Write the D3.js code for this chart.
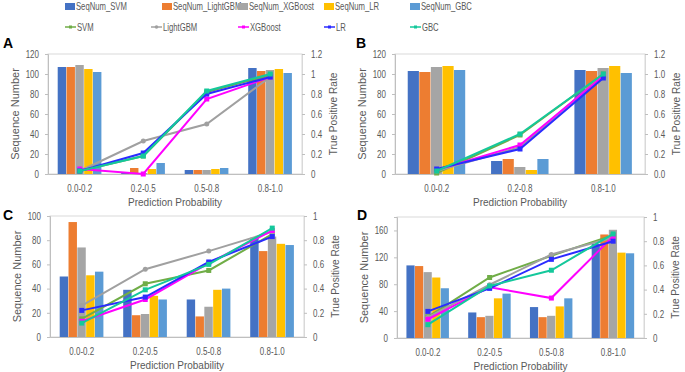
<!DOCTYPE html>
<html>
<head>
<meta charset="utf-8">
<script src="https://cdn.jsdelivr.net/npm/d3@7"></script>
<style>
  body { margin: 0; background: #fff; }
  svg text { font-family: "Liberation Sans", Arial, sans-serif; }
</style>
</head>
<body>
<svg id="chart" width="685" height="372"></svg>
<script>
const SERIES = ['SVM', 'LightGBM', 'XGBoost', 'LR', 'GBC']
const BAR_COLORS = ['#4472C4', '#ED7D31', '#A5A5A5', '#FFC000', '#5B9BD5']
const LINE_COLORS = ['#70AD47', '#A0A0A0', '#FF00FF', '#2B2BFF', '#14C89B']

const cats4 = ['0.0-0.2', '0.2-0.5', '0.5-0.8', '0.8-1.0']
const cats3 = ['0.0-0.2', '0.2-0.8', '0.8-1.0']

// sequence numbers, one row per series (SVM, LightGBM, XGBoost, LR, GBC)
const seqA = [[107, 1, 4, 106], [107, 6, 4, 103], [109, 1, 4, 104], [105, 5, 5, 105], [102, 11, 6, 101]]
const seqB = [[103, 13, 104], [102, 15, 103], [107, 7, 106], [108, 4, 108], [104, 15, 101]]
const seqC = [[50, 39, 31, 82], [95, 18, 17, 71], [74, 19, 25, 83], [51, 34, 39, 77], [54, 31, 40, 76]]
const seqD = [[108, 38, 46, 140], [107, 31, 31, 154], [98, 33, 33, 161], [90, 59, 47, 127], [74, 66, 59, 126]]

// true positive rates, same series order
const tprA = [[0.03, 0.18, 0.82, 0.99], [0.03, 0.33, 0.5, 0.97], [0.05, 0.0, 0.75, 0.97], [0.03, 0.21, 0.8, 0.97], [0.03, 0.18, 0.83, 1.0]]
const tprB = [[0.01, 0.39, 1.0], [0.03, 0.27, 0.99], [0.04, 0.29, 0.98], [0.05, 0.25, 0.96], [0.03, 0.4, 1.0]]
const tprC = [[0.15, 0.44, 0.55, 0.85], [0.26, 0.56, 0.71, 0.87], [0.13, 0.31, 0.61, 0.88], [0.22, 0.33, 0.62, 0.83], [0.115, 0.39, 0.6, 0.9]]
const tprD = [[0.175, 0.5, 0.68, 0.85], [0.17, 0.44, 0.69, 0.83], [0.155, 0.42, 0.33, 0.84], [0.22, 0.41, 0.65, 0.8], [0.11, 0.43, 0.56, 0.86]]

const seqTicksAB = [0, 20, 40, 60, 80, 100, 120]
const seqTicksC = [0, 20, 40, 60, 80, 100]
const seqTicksD = [0, 40, 80, 120, 160]
const tprTicks12 = [0, 0.2, 0.4, 0.6, 0.8, 1, 1.2]
const tprTicks1 = [0, 0.2, 0.4, 0.6, 0.8, 1]

const svg = d3.select('#chart')
const TEXT = '#595959'

// squeeze text horizontally, the original uses a narrow font
function condense(sel, k) {
  sel.each(function() {
    const t = d3.select(this)
    const x = +t.attr('x') || 0
    const tr = t.attr('transform') || ''
    t.attr('x', x / k).attr('transform', `${tr} scale(${k},1)`)
  })
}

// legend
const legendBarX = [65, 162, 238, 324, 410]
const legendLineX = [65, 151, 238, 324, 410]
const legend = svg.append('g').attr('class', 'legend')
SERIES.forEach((s, i) => {
  legend.append('rect')
    .attr('x', legendBarX[i]).attr('y', 3)
    .attr('width', 10).attr('height', 7)
    .attr('fill', BAR_COLORS[i])
  legend.append('text')
    .attr('x', legendBarX[i] + 11).attr('y', 10)
    .attr('font-size', 10).attr('fill', TEXT)
    .text('SeqNum_' + s)
    .call(condense, 0.77)
  legend.append('line')
    .attr('x1', legendLineX[i]).attr('x2', legendLineX[i] + 11)
    .attr('y1', 27).attr('y2', 27)
    .attr('stroke', LINE_COLORS[i]).attr('stroke-width', 1.5)
  if (s === 'LightGBM') {
    legend.append('circle')
      .attr('cx', legendLineX[i] + 5.5).attr('cy', 27).attr('r', 1.8)
      .attr('fill', LINE_COLORS[i])
  } else {
    legend.append('rect')
      .attr('x', legendLineX[i] + 4).attr('y', 25.5)
      .attr('width', 3).attr('height', 3)
      .attr('fill', LINE_COLORS[i])
  }
  legend.append('text')
    .attr('x', legendLineX[i] + 12).attr('y', 31)
    .attr('font-size', 10).attr('fill', TEXT)
    .text(s)
    .call(condense, 0.77)
})

function drawPanel(p) {
  const g = svg.append('g')

  const x0 = d3.scaleBand().domain(p.cats).range([p.left, p.right])
  const x1 = d3.scaleBand().domain(SERIES).range([0, x0.bandwidth()]).paddingOuter(1.1)
  const yL = d3.scaleLinear().domain(p.seqDomain).range([p.bottom, p.top])
  const yR = d3.scaleLinear().domain(p.tprDomain).range([p.bottom, p.top])

  g.append('rect')
    .attr('x', p.left).attr('y', p.top)
    .attr('width', p.right - p.left).attr('height', p.bottom - p.top)
    .attr('fill', 'none').attr('stroke', '#D9D9D9')

  // bars
  SERIES.forEach((s, si) => {
    g.append('g').selectAll('rect')
      .data(p.seq[si])
      .join('rect')
        .attr('x', (d, ci) => x0(p.cats[ci]) + x1(s))
        .attr('y', d => yL(d))
        .attr('width', x1.bandwidth() - 0.4)
        .attr('height', d => yL(0) - yL(d))
        .attr('fill', BAR_COLORS[si])
  })

  // axes
  const leftAxis = g.append('g')
    .attr('transform', `translate(${p.left},0)`)
    .call(d3.axisLeft(yL).tickValues(p.seqTicks).tickSize(3).tickPadding(6))
  const rightAxis = g.append('g')
    .attr('transform', `translate(${p.right},0)`)
    .call(d3.axisRight(yR).tickValues(p.tprTicks).tickSize(3).tickPadding(6).tickFormat(p.tprFormat))
  const bottomAxis = g.append('g')
    .attr('transform', `translate(0,${p.bottom})`)
    .call(d3.axisBottom(x0).tickSize(0).tickPadding(11))
  ;[leftAxis, rightAxis, bottomAxis].forEach(a => {
    a.select('.domain').attr('stroke', '#BFBFBF')
    a.selectAll('.tick line').attr('stroke', '#BFBFBF')
    a.selectAll('text').attr('fill', TEXT).attr('font-size', 10)
      .attr('font-family', '"Liberation Sans", Arial, sans-serif')
      .call(condense, 0.8)
  })
  rightAxis.select('.domain').attr('stroke', '#D9D9D9')

  // lines
  const cx = (d, ci) => x0(p.cats[ci]) + x0.bandwidth() / 2
  const line = d3.line().x(cx).y(d => yR(d))
  SERIES.forEach((s, si) => {
    g.append('path')
      .datum(p.tpr[si])
      .attr('d', line)
      .attr('fill', 'none')
      .attr('stroke', LINE_COLORS[si])
      .attr('stroke-width', 2)
    const pts = g.append('g').selectAll('.pt')
      .data(p.tpr[si])
    if (s === 'LightGBM') {
      pts.join('circle')
        .attr('cx', cx)
        .attr('cy', d => yR(d))
        .attr('r', 2.5)
        .attr('fill', LINE_COLORS[si])
    } else {
      pts.join('rect')
        .attr('x', (d, ci) => cx(d, ci) - 2.5)
        .attr('y', d => yR(d) - 2.5)
        .attr('width', 5).attr('height', 5)
        .attr('fill', LINE_COLORS[si])
    }
  })

  // titles
  const midY = (p.top + p.bottom) / 2
  g.append('text')
    .attr('transform', `translate(${p.left - 29},${midY}) rotate(-90)`)
    .attr('text-anchor', 'middle').attr('font-size', 11).attr('fill', TEXT)
    .text('Sequence Number')
  g.append('text')
    .attr('transform', `translate(${p.right + 35},${midY}) rotate(-90)`)
    .attr('text-anchor', 'middle').attr('font-size', 11).attr('fill', TEXT)
    .text('True Positive Rate')
    .call(condense, 0.92)
  g.append('text')
    .attr('x', (p.left + p.right) / 2).attr('y', p.bottom + 32)
    .attr('text-anchor', 'middle').attr('font-size', 11).attr('fill', TEXT)
    .text('Prediction Probability')
    .call(condense, 0.91)
  g.append('text')
    .attr('x', p.labelX).attr('y', p.labelY)
    .attr('font-size', 14).attr('font-weight', 'bold').attr('fill', '#000')
    .text(p.label)
}

const plainFmt = d => String(d)
const oneDec = d3.format('.1f')

drawPanel({ label: 'A', labelX: 3, labelY: 48, cats: cats4, seq: seqA, tpr: tprA,
  left: 48, right: 302, top: 54, bottom: 174,
  seqDomain: [0, 120], tprDomain: [0, 1.2], seqTicks: seqTicksAB, tprTicks: tprTicks12, tprFormat: plainFmt })
drawPanel({ label: 'B', labelX: 356, labelY: 48, cats: cats3, seq: seqB, tpr: tprB,
  left: 395, right: 645, top: 54, bottom: 174,
  seqDomain: [0, 120], tprDomain: [0, 1.2], seqTicks: seqTicksAB, tprTicks: tprTicks12, tprFormat: oneDec })
drawPanel({ label: 'C', labelX: 3, labelY: 220, cats: cats4, seq: seqC, tpr: tprC,
  left: 50, right: 304, top: 216, bottom: 337,
  seqDomain: [0, 100], tprDomain: [0, 1], seqTicks: seqTicksC, tprTicks: tprTicks1, tprFormat: plainFmt })
drawPanel({ label: 'D', labelX: 357, labelY: 220, cats: cats4, seq: seqD, tpr: tprD,
  left: 397, right: 644, top: 217, bottom: 338,
  seqDomain: [0, 180], tprDomain: [0, 1], seqTicks: seqTicksD, tprTicks: tprTicks1, tprFormat: plainFmt })
</script>
</body>
</html>
